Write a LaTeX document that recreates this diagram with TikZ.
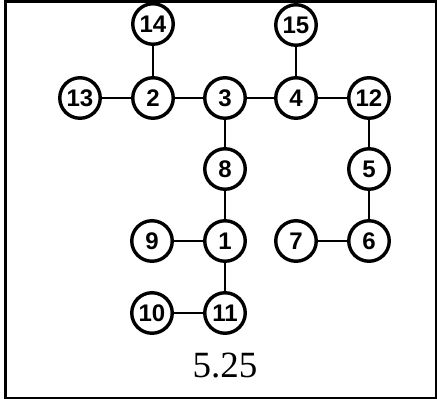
\documentclass[tikz,border=0pt]{standalone}
\usepackage{fontspec}
\setmainfont{Liberation Serif}
\newfontfamily\nodefont{Liberation Sans}
\begin{document}
\begin{tikzpicture}[x=1pt,y=-1pt,
  vtx/.style={circle,draw=black,line width=3.4pt,fill=white,minimum size=40.5pt,inner sep=0pt,
    font=\nodefont\bfseries\fontsize{24}{24}\selectfont},
  edge/.style={line width=2.6pt,black}]
\useasboundingbox (0,0) rectangle (437,399);
\draw[line width=2.6pt] (5.2,1.2) rectangle (435.8,397.8);
\node[vtx] (n14) at (153,24) {14};
\node[vtx] (n15) at (296,25) {15};
\node[vtx] (n13) at (80,98) {13};
\node[vtx] (n2) at (153,98) {2};
\node[vtx] (n3) at (225,98) {3};
\node[vtx] (n4) at (296,98) {4};
\node[vtx] (n12) at (369,98) {12};
\node[vtx] (n8) at (225,169) {8};
\node[vtx] (n5) at (369,169) {5};
\node[vtx] (n9) at (152,241) {9};
\node[vtx] (n1) at (225,241) {1};
\node[vtx] (n7) at (296,241) {7};
\node[vtx] (n6) at (369,241) {6};
\node[vtx] (n10) at (152,313) {10};
\node[vtx] (n11) at (225,313) {11};
\draw[edge] (n14) -- (n2);
\draw[edge] (n15) -- (n4);
\draw[edge] (n13) -- (n2);
\draw[edge] (n2) -- (n3);
\draw[edge] (n3) -- (n4);
\draw[edge] (n4) -- (n12);
\draw[edge] (n3) -- (n8);
\draw[edge] (n8) -- (n1);
\draw[edge] (n12) -- (n5);
\draw[edge] (n5) -- (n6);
\draw[edge] (n9) -- (n1);
\draw[edge] (n7) -- (n6);
\draw[edge] (n1) -- (n11);
\draw[edge] (n10) -- (n11);
\node[font=\fontsize{37}{37}\selectfont,anchor=base] (cap) at (225,377.5) {5.25};
\end{tikzpicture}
\end{document}
